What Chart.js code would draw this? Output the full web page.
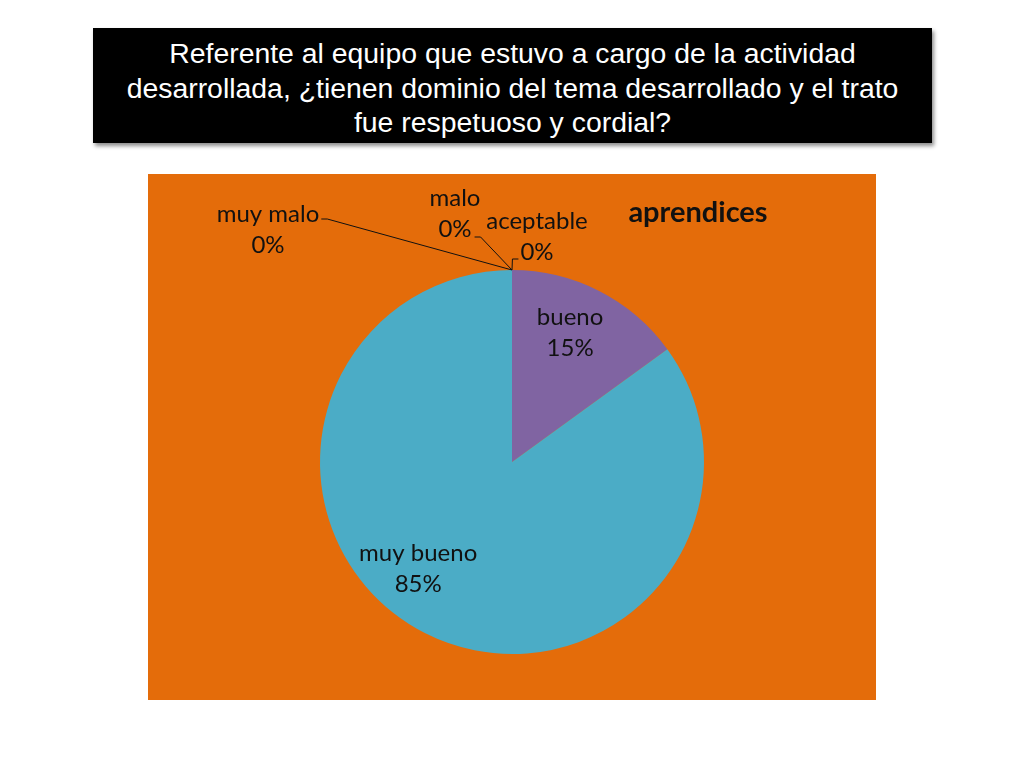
<!DOCTYPE html>
<html lang="es">
<head>
    <meta charset="UTF-8">
    <title>aprendices</title>
    <script src="https://cdn.jsdelivr.net/npm/chart.js"></script>
    <style>
        body { margin: 0; width: 1024px; height: 768px; background: #fff; position: relative; overflow: hidden; }
        #titleBox {
            position: absolute; left: 93px; top: 28px; width: 839px; height: 115px;
            background: #000; color: #fff; box-shadow: 2px 3px 4px rgba(0,0,0,0.45);
            font-family: "Liberation Sans", Arial, sans-serif; font-size: 28.4px; line-height: 34.5px;
            text-align: center; box-sizing: border-box; padding-top: 8px;
        }
        #chartBox { position: absolute; left: 148px; top: 174px; width: 728px; height: 526px; background: #E46C0A; }
    </style>
</head>
<body>
    <div id="titleBox">Referente al equipo que estuvo a cargo de la actividad<br>desarrollada, ¿tienen dominio del tema desarrollado y el trato<br>fue respetuoso y cordial?</div>
    <div id="chartBox"><canvas id="pieChart"></canvas></div>

    <script>
        // datos del gráfico
        const categorias = ['muy malo', 'malo', 'aceptable', 'bueno', 'muy bueno'];
        const porcentajes = [0, 0, 0, 15, 85];
        const colores = ['#C0504D', '#9BBB59', '#F79646', '#8064A2', '#4BACC6'];
        const tituloGrafico = 'aprendices';

        // desplazamiento de cada etiqueta respecto al punto del arco
        const etiquetaOffset = [
            { dx: -244, dy: -41 },
            { dx: -57, dy: -57 },
            { dx: 25, dy: -34 },
            { dx: 0, dy: 0 },
            { dx: 0, dy: 0 }
        ];

        const etiquetasPlugin = {
            id: 'etiquetas',
            afterDatasetsDraw(chart) {
                const ctx = chart.ctx;
                const meta = chart.getDatasetMeta(0);
                ctx.save();
                ctx.font = '24px Lato, "Open Sans", sans-serif';
                ctx.fillStyle = '#111';
                ctx.textAlign = 'center';
                ctx.textBaseline = 'middle';
                meta.data.forEach((arc, i) => {
                    const p = arc.getProps(['x', 'y', 'startAngle', 'endAngle', 'outerRadius']);
                    const txt = [categorias[i], porcentajes[i] + '%'];
                    let lx, ly;
                    if (porcentajes[i] === 0) {
                        const ax = p.x + Math.cos(p.startAngle) * p.outerRadius;
                        const ay = p.y + Math.sin(p.startAngle) * p.outerRadius;
                        lx = ax + etiquetaOffset[i].dx;
                        ly = ay + etiquetaOffset[i].dy;
                        // línea guía
                        ctx.strokeStyle = '#111';
                        ctx.lineWidth = 1;
                        ctx.beginPath();
                        const w0 = ctx.measureText(txt[0]).width;
                        const w1 = ctx.measureText(txt[1]).width;
                        if (i === 0) {
                            ctx.moveTo(lx + w0 / 2 + 2, ly - 10);
                            ctx.lineTo(lx + w0 / 2 + 8, ly - 10);
                        } else if (i === 1) {
                            ctx.moveTo(lx + w1 / 2 + 3, ly + 24);
                            ctx.lineTo(lx + w1 / 2 + 9, ly + 24);
                        } else {
                            ctx.moveTo(lx - w1 / 2 - 2, ly + 23);
                            ctx.lineTo(lx - w1 / 2 - 8, ly + 23);
                        }
                        ctx.lineTo(ax, ay);
                        ctx.stroke();
                    } else {
                        const mid = (p.startAngle + p.endAngle) / 2;
                        const r = p.outerRadius * 0.74;
                        const adj = i === 4 ? 0.25 : -0.05;
                        lx = p.x + Math.cos(mid + adj) * r;
                        ly = p.y + Math.sin(mid + adj) * r;
                    }
                    ctx.fillText(txt[0], lx, ly - 15);
                    ctx.fillText(txt[1], lx, ly + 16);
                });
                // título del gráfico
                ctx.font = 'bold 29px Lato, "Open Sans", sans-serif';
                ctx.fillText(tituloGrafico, 550, 39);
                ctx.restore();
            }
        };

        const ctx = document.getElementById('pieChart').getContext('2d');
        new Chart(ctx, {
            type: 'pie',
            data: {
                labels: categorias,
                datasets: [{
                    data: porcentajes,
                    backgroundColor: colores,
                    borderWidth: 0
                }]
            },
            options: {
                responsive: true,
                maintainAspectRatio: false,
                animation: false,
                layout: { padding: { top: 96, bottom: 46, left: 0, right: 0 } },
                plugins: {
                    legend: { display: false },
                    tooltip: { enabled: false }
                }
            },
            plugins: [etiquetasPlugin]
        });
    </script>
</body>
</html>
